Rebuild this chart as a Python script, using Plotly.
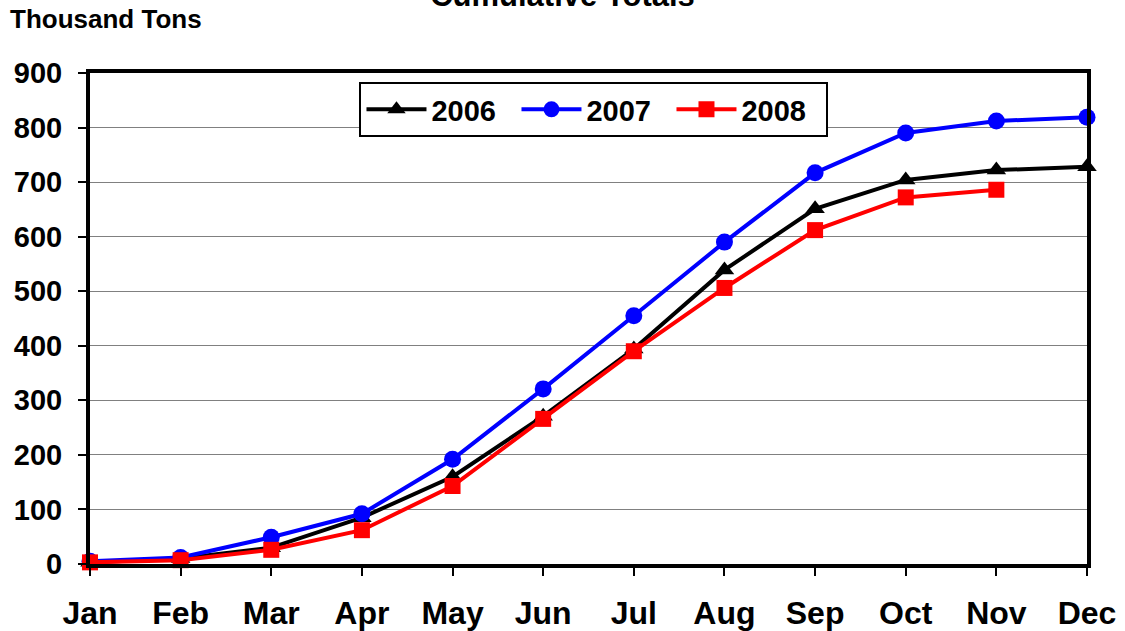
import plotly.graph_objects as go

months = ["Jan", "Feb", "Mar", "Apr", "May", "Jun", "Jul", "Aug", "Sep", "Oct", "Nov", "Dec"]
y2006 = [3, 10, 30, 85, 160, 271, 394, 539, 651, 704, 722, 728]
y2007 = [5, 12, 49, 92, 192, 321, 455, 590, 717, 790, 812, 819]
y2008 = [3, 7, 26, 62, 143, 266, 390, 506, 612, 672, 686]

series = [
    ("2006", y2006, "#000000", "triangle-up", 17),
    ("2007", y2007, "#0000FF", "circle", 17),
    ("2008", y2008, "#FF0000", "square", 16),
]

fig = go.Figure()
for name, vals, color, sym, size in series:
    fig.add_trace(go.Scatter(
        x=months[:len(vals)], y=vals, name="<b>" + name + "</b>", mode="lines+markers",
        line=dict(color=color, width=4),
        marker=dict(symbol=sym, size=size, color=color),
        cliponaxis=False,
    ))

font_family = "Liberation Sans, Arial, sans-serif"

fig.update_layout(
    width=1125, height=631,
    margin=dict(l=90, r=38, t=73, b=67),
    paper_bgcolor="white", plot_bgcolor="white",
    font=dict(family=font_family, color="black"),
    title=dict(text="<b>Cumulative Totals</b>", x=0.5, xref="container",
               y=1 - 6 / 631, yref="container", yanchor="bottom",
               font=dict(size=31, family=font_family, color="black")),
    showlegend=True,
    legend=dict(orientation="h", x=0.5055, xanchor="center", y=0.9817, yanchor="top",
                bordercolor="black", borderwidth=2, bgcolor="white",
                font=dict(size=29, family=font_family, color="black"),
                itemwidth=60, entrywidth=80, traceorder="normal"),
    annotations=[dict(text="<b>Thousand Tons</b>", xref="paper", yref="paper",
                      x=-82 / 997, y=(564 - 36) / 491, xanchor="left", yanchor="bottom",
                      showarrow=False, font=dict(size=26, family=font_family, color="black"))],
)

fig.update_xaxes(
    type="category", categoryorder="array", categoryarray=months,
    range=[0, len(months) - 1], automargin=False,
    showline=True, linecolor="black", linewidth=4, mirror=True,
    ticks="outside", ticklen=8, tickwidth=2, tickcolor="black",
    showgrid=False, zeroline=False, ticklabelstandoff=10,
    tickfont=dict(size=32, family=font_family, color="black"),
    tickprefix="<b>", ticksuffix="</b>",
)
fig.update_yaxes(
    range=[0, 900], dtick=100, tick0=0, automargin=False,
    showline=True, linecolor="black", linewidth=4, mirror=True,
    ticks="outside", ticklen=8, tickwidth=2, tickcolor="black",
    showgrid=True, gridcolor="#808080", gridwidth=1, zeroline=False,
    ticklabelstandoff=10,
    tickfont=dict(size=29, family=font_family, color="black"),
    tickprefix="<b>", ticksuffix="</b>",
)

fig.write_html("out.html", config={"displayModeBar": False},
               post_script="document.body.style.margin='0';document.body.style.overflow='hidden';")
